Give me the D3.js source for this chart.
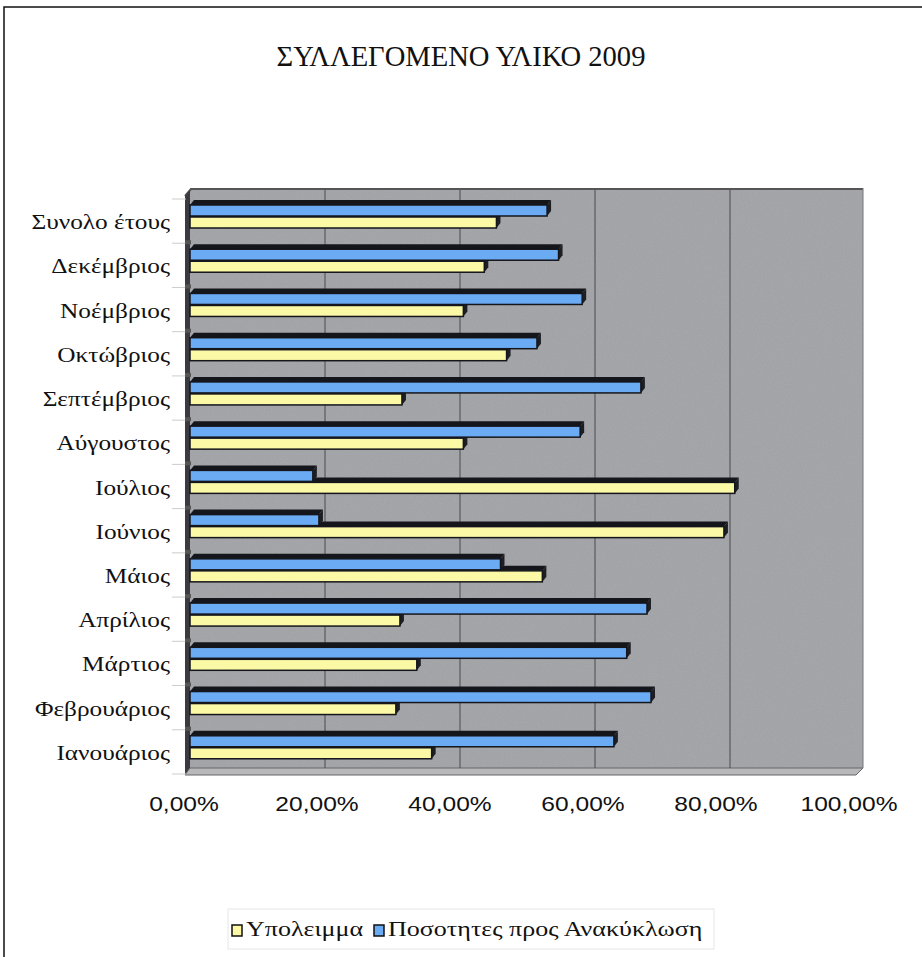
<!DOCTYPE html>
<html>
<head>
<meta charset="utf-8">
<script src="https://cdn.jsdelivr.net/npm/d3@7"></script>
<style>
  body { margin: 0; background: #fff; }
  svg { display: block; }
</style>
</head>
<body>
<div id="svg_div"><svg width="922" height="957"></svg></div>
<script>
// Chart values (percent)
var categories = ["Συνολο έτους", "Δεκέμβριος", "Νοέμβριος", "Οκτώβριος", "Σεπτέμβριος", "Αύγουστος",
    "Ιούλιος", "Ιούνιος", "Μάιος", "Απρίλιος", "Μάρτιος", "Φεβρουάριος", "Ιανουάριος"];
var recycling = [52.9, 54.6, 58.1, 51.4, 66.8, 57.8, 18.2, 19.1, 46.0, 67.7, 64.7, 68.3, 62.8];
var remainder = [45.4, 43.6, 40.5, 46.9, 31.4, 40.5, 80.7, 79.1, 52.2, 31.1, 33.6, 30.5, 35.8];
var seriesNames = ["Υπολειμμα", "Ποσοτητες προς Ανακύκλωση"];
var xTicks = [0, 20, 40, 60, 80, 100];

var svg = d3.select("#svg_div").select("svg");

// Grain for the grey walls
var defs = svg.append("defs");
var grain = defs.append("filter").attr("id", "grain")
    .attr("x", 0).attr("y", 0).attr("width", 1).attr("height", 1);
grain.append("feTurbulence")
    .attr("type", "fractalNoise")
    .attr("baseFrequency", 0.9)
    .attr("numOctaves", 2)
    .attr("seed", 3)
    .attr("result", "noise");
grain.append("feColorMatrix")
    .attr("in", "noise")
    .attr("type", "matrix")
    .attr("values", "0 0 0 0 0.63  0 0 0 0 0.63  0 0 0 0 0.65  0.35 0 0 0 -0.05")
    .attr("result", "tint");
grain.append("feComposite")
    .attr("in", "tint")
    .attr("in2", "SourceGraphic")
    .attr("operator", "in");

// Outer frame
svg.append("path")
    .attr("d", "M4,957 L4,7 L922,7")
    .attr("fill", "none")
    .attr("stroke", "#111")
    .attr("stroke-width", 1.5);

// Title
svg.append("text")
    .attr("x", 461)
    .attr("y", 66)
    .attr("text-anchor", "middle")
    .style("font-family", "'Liberation Serif', serif")
    .style("font-size", "28.6px")
    .attr("fill", "#111")
    .text("ΣΥΛΛΕΓΟΜΕΝΟ ΥΛΙΚΟ 2009");

// Scales
var xScale = d3.scaleLinear().domain([0, 100]).range([190, 865]);
var xLabelScale = d3.scaleLinear().domain([0, 100]).range([184, 849]);
var yScale = d3.scaleBand().domain(categories).range([200, 775]);
var inner = d3.scaleBand().domain(["blue", "yellow"]).range([5, 29]);

var wallTop = 188, wallBottom = 768;
var depth = 5, shift = 4;

// Back wall, left wall, floor
var plot = svg.append("g").attr("class", "plot");
plot.append("rect")
    .attr("x", xScale(0))
    .attr("y", wallTop)
    .attr("width", 863 - xScale(0))
    .attr("height", wallBottom - wallTop)
    .attr("fill", "#a0a1a4");
plot.append("rect")
    .attr("x", xScale(0))
    .attr("y", wallTop)
    .attr("width", 863 - xScale(0))
    .attr("height", wallBottom - wallTop)
    .attr("fill", "#a0a1a4")
    .attr("filter", "url(#grain)")
    .attr("opacity", 0.6);
plot.append("path")
    .attr("d", "M185,196 L191,189 L863,189")
    .attr("fill", "none")
    .attr("stroke", "#555")
    .attr("stroke-width", 2);
plot.append("path")
    .attr("d", "M185,196 L190,190 L190," + wallBottom + " L185,775 Z")
    .attr("fill", "#3a3a40");
plot.append("path")
    .attr("d", "M185,775 L190," + wallBottom + " L863," + wallBottom + " L856,775 Z")
    .attr("fill", "#b8b8ba")
    .attr("stroke", "#666")
    .attr("stroke-width", 1);
plot.append("line")
    .attr("x1", 863).attr("x2", 863)
    .attr("y1", wallTop).attr("y2", wallBottom)
    .attr("stroke", "#777");

// Gridlines on the back wall
plot.selectAll(".grid")
    .data(xTicks.slice(1, -1))
    .enter()
    .append("line")
    .attr("class", "grid")
    .attr("x1", function(d) { return xScale(d); })
    .attr("x2", function(d) { return xScale(d); })
    .attr("y1", wallTop + 2)
    .attr("y2", wallBottom)
    .attr("stroke", "#4a4a4e")
    .attr("stroke-width", 1);

// Category boundary ticks
var bounds = categories.map(function(c) { return yScale(c); }).concat([775]);
plot.selectAll(".ytick")
    .data(bounds)
    .enter()
    .append("line")
    .attr("x1", 172).attr("x2", 186)
    .attr("y1", function(d) { return d - 1; })
    .attr("y2", function(d) { return d - 1; })
    .attr("stroke", "#ccc");
plot.selectAll(".ymark")
    .data(bounds.slice(1, -1))
    .enter()
    .append("rect")
    .attr("x", 185).attr("width", 6)
    .attr("y", function(d) { return d - 4; })
    .attr("height", 4)
    .attr("fill", "#555");

// 3D bar helper
function bar3d(g, y, v, h, fill) {
    var x0 = xScale(0), x1 = xScale(v);
    g.append("path")
        .attr("d", "M" + x0 + "," + y + " L" + (x0 + shift) + "," + (y - depth) +
            " L" + (x1 + shift) + "," + (y - depth) + " L" + x1 + "," + y + " Z")
        .attr("fill", "#15161c");
    g.append("path")
        .attr("d", "M" + x1 + "," + y + " L" + (x1 + shift) + "," + (y - depth) +
            " L" + (x1 + shift) + "," + (y + h - depth) + " L" + x1 + "," + (y + h) + " Z")
        .attr("fill", "#1d1e24");
    g.append("rect")
        .attr("x", x0)
        .attr("y", y)
        .attr("width", x1 - x0)
        .attr("height", h)
        .attr("fill", fill)
        .attr("stroke", "#15161c")
        .attr("stroke-width", 1.5);
}

var bars = svg.append("g").attr("class", "bars");
categories.forEach(function(c, i) {
    var g = bars.append("g");
    bar3d(g, yScale(c) + inner("yellow"), remainder[i], inner.bandwidth() - 1, "#fbf8a6");
    bar3d(g, yScale(c) + inner("blue"), recycling[i], inner.bandwidth() - 1, "#6aabf4");
});

// Category labels (text in the original is slightly stretched horizontally)
svg.selectAll(".ylabel")
    .data(categories)
    .enter()
    .append("text")
    .attr("transform", function(d) {
        return "translate(170," + (yScale(d) + yScale.bandwidth() / 2 + 7) + ") scale(1.15,1)";
    })
    .attr("text-anchor", "end")
    .style("font-family", "'Liberation Serif', serif")
    .style("font-size", "22px")
    .attr("fill", "#111")
    .text(function(d) { return d; });

// X axis labels
var fmt = function(d) { return d3.format(".2f")(d).replace(".", ",") + "%"; };
svg.selectAll(".xlabel")
    .data(xTicks)
    .enter()
    .append("text")
    .attr("transform", function(d) {
        return "translate(" + xLabelScale(d) + ",811) scale(1.17,1)";
    })
    .attr("text-anchor", "middle")
    .style("font-family", "'Liberation Sans', Arial, sans-serif")
    .style("font-size", "21px")
    .attr("fill", "#111")
    .text(fmt);

// Legend
var legend = svg.append("g").attr("class", "legend");
legend.append("rect")
    .attr("x", 228).attr("y", 909)
    .attr("width", 486).attr("height", 40)
    .attr("fill", "#fff")
    .attr("stroke", "#e6e6e6");
var legendColors = ["#fbf8a6", "#6aabf4"];
var legendX = [232, 374];
seriesNames.forEach(function(name, i) {
    legend.append("rect")
        .attr("x", legendX[i]).attr("y", 925)
        .attr("width", 10).attr("height", 11)
        .attr("fill", legendColors[i])
        .attr("stroke", "#111")
        .attr("stroke-width", 1.5);
    legend.append("text")
        .attr("transform", "translate(" + (legendX[i] + 14) + ",936) scale(1.24,1)")
        .style("font-family", "'Liberation Serif', serif")
        .style("font-size", "21px")
        .attr("fill", "#111")
        .text(name);
});
</script>
</body>
</html>
